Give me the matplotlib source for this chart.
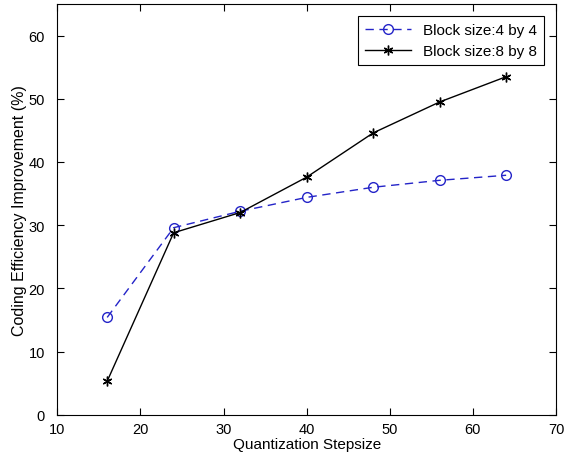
import matplotlib
matplotlib.use("Agg")
import matplotlib.pyplot as plt

stepsize = [16, 24, 32, 40, 48, 56, 64]
block4 = [15.4, 29.6, 32.2, 34.4, 36.0, 37.1, 37.9]
block8 = [5.3, 28.8, 32.0, 37.6, 44.6, 49.5, 53.5]
labels = ["Block size:4 by 4", "Block size:8 by 8"]
xticks = [10, 20, 30, 40, 50, 60, 70]
yticks = [0, 10, 20, 30, 40, 50, 60]

plt.rcParams['font.family'] = ['Liberation Sans', 'DejaVu Sans']
fig = plt.figure(figsize=(5.64, 4.6), dpi=100)
ax = fig.add_axes([0.1016, 0.0963, 0.8842, 0.8927])

ax.plot(stepsize, block4, linestyle=(0, (6, 4)), color='#2424c8', linewidth=1.0,
        marker='o', markersize=7, markerfacecolor='none', markeredgecolor='#2424c8',
        markeredgewidth=1.0, label=labels[0])
ax.plot(stepsize, block8, linestyle='-', color='black', linewidth=1.0,
        marker=(6, 2, 0), markersize=7, markeredgewidth=1.0, label=labels[1])

ax.set_xlim(10, 70)
ax.set_ylim(0, 65)
ax.set_xticks(xticks)
ax.set_yticks(yticks)
ax.tick_params(direction='in', length=5, top=True, right=True, labelsize=10.5, width=0.8)
ax.tick_params(axis='y', pad=9)
ax.tick_params(axis='x', pad=5)
for s in ax.spines.values():
    s.set_linewidth(0.8)
ax.set_xlabel("Quantization Stepsize", fontsize=11, labelpad=1)
ax.set_ylabel("Coding Efficiency Improvement (%)", fontsize=11.5, labelpad=1)

leg = ax.legend(loc='upper right', fontsize=11, fancybox=False, framealpha=1,
                edgecolor='black', handlelength=3, borderaxespad=0.8,
                labelspacing=0.45, borderpad=0.45)
leg.get_frame().set_linewidth(0.8)

fig.savefig("out.png", dpi=100)
